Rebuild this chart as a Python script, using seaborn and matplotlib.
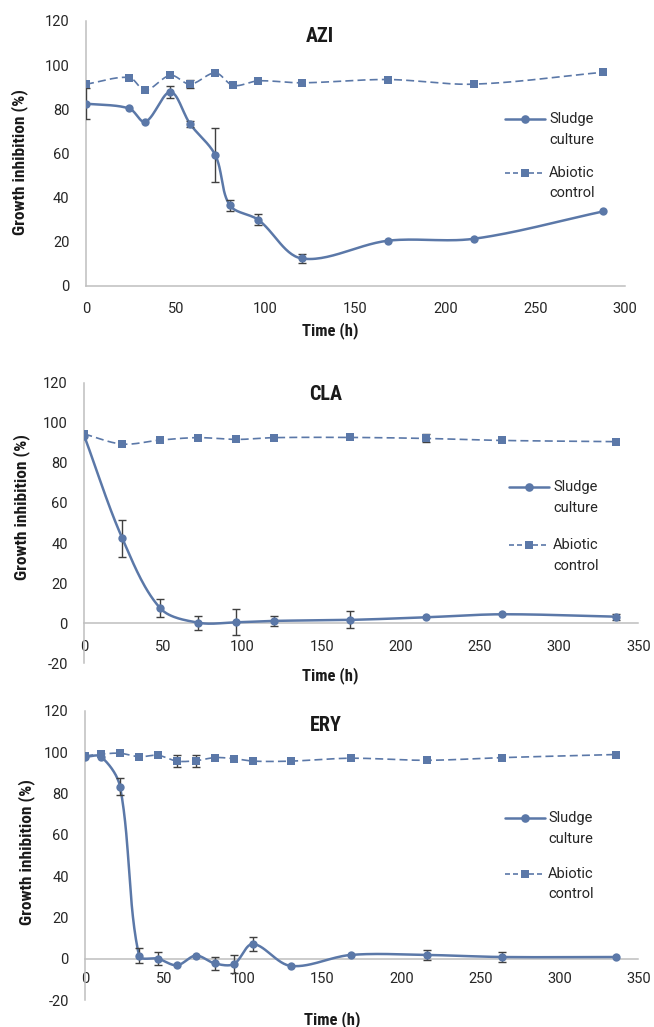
import numpy as np
import pandas as pd
import matplotlib
matplotlib.use("Agg")
import matplotlib.pyplot as plt
from matplotlib.lines import Line2D
from matplotlib import font_manager as fm
from matplotlib.font_manager import FontProperties
import seaborn as sns

# ---------------- data ----------------
azi_t_sludge = [0, 24, 33, 47, 58, 72, 80, 96, 120, 168, 216, 288]
azi_sludge = [82.6, 80.4, 74.3, 87.9, 73.3, 59.2, 36.6, 29.9, 12.5, 20.5, 21.4, 33.8]
azi_sludge_err = [7.2, 0, 0, 2.6, 1.5, 12.2, 2.5, 2.5, 2.0, 0, 0, 0]
azi_t_abiotic = [0, 24, 33, 47, 58, 72, 82, 96, 120, 168, 216, 288]
azi_abiotic = [91.4, 94.4, 88.6, 95.4, 91.4, 96.5, 90.8, 92.9, 92.0, 93.5, 91.4, 96.8]
azi_abiotic_err = [0, 0, 0, 0, 1.8, 0, 0, 0, 0, 0, 0, 0]

cla_t = [0, 24, 48, 72, 96, 120, 168, 216, 264, 336]
cla_sludge = [93.4, 42.4, 7.5, 0.3, 0.5, 1.2, 1.7, 3.0, 4.5, 3.3]
cla_sludge_err = [0, 9.2, 4.5, 3.5, 6.5, 2.5, 4.2, 0, 0, 1.5]
cla_abiotic = [94.4, 89.4, 91.4, 92.6, 91.7, 92.6, 92.7, 92.2, 91.2, 90.6]
cla_abiotic_err = [0, 0, 0, 0, 0, 0, 0, 2.0, 0, 0]

ery_t = [0, 10, 22, 34, 46, 58, 70, 82, 94, 106, 130, 168, 216, 264, 336]
ery_sludge = [97.7, 97.7, 83.2, 1.5, 0.0, -3.2, 1.5, -2.3, -2.6, 7.1, -3.5, 1.8, 1.8, 0.8, 0.8]
ery_sludge_err = [0, 0, 4.0, 3.5, 3.0, 0, 0, 3.0, 4.5, 3.5, 0, 0, 2.5, 2.5, 0]
ery_abiotic = [98.2, 99.0, 99.4, 97.7, 98.4, 95.6, 95.8, 97.3, 96.8, 95.6, 95.6, 97.0, 96.0, 97.3, 98.8]
ery_abiotic_err = [0, 0, 0, 0, 0, 3.0, 3.0, 0, 0, 0, 0, 0, 0, 0, 0]

titles = ["AZI", "CLA", "ERY"]
legend_labels = [("Sludge", "culture"), ("Abiotic", "control")]
x_label = "Time (h)"
y_label = "Growth inhibition (%)"
xticks_list = [list(range(0, 301, 50)), list(range(0, 351, 50)), list(range(0, 351, 50))]
yticks_list = [list(range(0, 121, 20)), list(range(-20, 121, 20)), list(range(-20, 121, 20))]

# ---------------- style ----------------
sns.set_theme(style="white")
ttf = fm.fontManager.ttflist
names = {f.name for f in ttf}
regular = "Roboto" if "Roboto" in names else "DejaVu Sans"
plt.rcParams["font.family"] = [regular, "DejaVu Sans"]
plt.rcParams["axes.unicode_minus"] = False


def _wt(f):
    w = f.weight
    if isinstance(w, str):
        return {"bold": 700, "heavy": 800, "black": 900, "semibold": 600,
                "demibold": 600, "extra bold": 800}.get(w.lower(), 400)
    return int(w)


def condensed_bold():
    prefs = ["Liberation Sans Narrow", "Roboto Condensed", "DejaVu Sans Condensed",
             "Noto Sans Condensed", "Open Sans Condensed"]
    for nm in prefs:
        for f in ttf:
            if f.name == nm and _wt(f) >= 600 and f.style == "normal":
                return FontProperties(fname=f.fname)
    fams = ("DejaVu Sans", "Noto Sans", "Roboto", "Open Sans", "Liberation Sans", "Inter", "Lato")
    for nm in fams:
        for f in ttf:
            st = str(f.stretch)
            if f.name == nm and _wt(f) >= 600 and f.style == "normal" and "condensed" in st \
                    and "extra" not in st and "ultra" not in st:
                return FontProperties(fname=f.fname)
    return FontProperties(family=[regular, "DejaVu Sans"], weight="bold")


BOLD = condensed_bold()


def bfont(size):
    fp = BOLD.copy()
    fp.set_size(size)
    return fp


LINE = "#5b78a8"
ERR = "#404040"
AXC = "#bfbfbf"
TXT = "#262626"

W, H = 654, 1027
fig = plt.figure(figsize=(W / 100, H / 100), dpi=100)


def fx(px):
    return px / W


def fy(py):
    return 1 - py / H


panels = [
    dict(rect=(86, 21, 625, 286), xlim=(0, 300), ylim=(0, 120),
         ts=azi_t_sludge, s=azi_sludge, se=azi_sludge_err,
         ta=azi_t_abiotic, a=azi_abiotic, ae=azi_abiotic_err,
         xpad=11.5, title=(320, 37), tlabel=(330, 331), ylab=(19.5, 162),
         leg=dict(x0=505, x1=545, tx=549, s=(119, 139.5), a=(172.5, 193))),
    dict(rect=(84.3, 382.7, 638.3, 663.4), xlim=(0, 350), ylim=(-20, 120),
         ts=cla_t, s=cla_sludge, se=cla_sludge_err,
         ta=cla_t, a=cla_abiotic, ae=cla_abiotic_err,
         xpad=12, title=(326, 394), tlabel=(330, 676), ylab=(22, 507),
         leg=dict(x0=509, x1=549, tx=553, s=(487, 508), a=(545, 566))),
    dict(rect=(85.3, 710.7, 638.3, 1000), xlim=(0, 350), ylim=(-20, 120),
         ts=ery_t, s=ery_sludge, se=ery_sludge_err,
         ta=ery_t, a=ery_abiotic, ae=ery_abiotic_err,
         xpad=9.5, title=(326, 725.5), tlabel=(332, 1020), ylab=(27, 852),
         leg=dict(x0=505, x1=545, tx=548, s=(818, 839), a=(874, 894))),
]


def smooth(ax, x, y, n=30):
    """Smoothed line (Bezier, tangents weighted by neighbouring chord lengths),
    computed in display space so the shape follows the drawn axes."""
    P = ax.transData.transform(np.column_stack([x, y]))
    m = len(P)
    d = np.linalg.norm(np.diff(P, axis=0), axis=1)
    t = np.linspace(0, 1, n)[:, None]
    segs = []
    for i in range(m - 1):
        p1, p2 = P[i], P[i + 1]
        if i == 0:
            c1 = p1 + (p2 - p1) / 3.0
        else:
            T = P[i + 1] - P[i - 1]
            c1 = p1 + T * d[i] / (3.0 * (d[i - 1] + d[i]))
        if i + 1 == m - 1:
            c2 = p2 - (p2 - p1) / 3.0
        else:
            T = P[i + 2] - P[i]
            c2 = p2 - T * d[i] / (3.0 * (d[i] + d[i + 1]))
        b = (1 - t) ** 3 * p1 + 3 * (1 - t) ** 2 * t * c1 + 3 * (1 - t) * t ** 2 * c2 + t ** 3 * p2
        segs.append(b)
    curve = np.vstack(segs)
    return ax.transData.inverted().transform(curve)


for i, p in enumerate(panels):
    l, t, r, b = p["rect"]
    ax = fig.add_axes([fx(l), fy(b), fx(r - l), (b - t) / H])
    ax.set_xlim(*p["xlim"])
    ax.set_ylim(*p["ylim"])
    ax.set_facecolor("white")

    for side in ["top", "right"]:
        ax.spines[side].set_visible(False)
    for side in ["left", "bottom"]:
        ax.spines[side].set_color(AXC)
        ax.spines[side].set_linewidth(1.1)
    ax.spines["bottom"].set_position(("data", 0))

    ax.set_xticks(xticks_list[i])
    ax.set_yticks(yticks_list[i])
    ax.tick_params(axis="x", direction="in", length=4, width=1, color=AXC,
                   pad=p["xpad"], labelsize=10.5, labelcolor=TXT)
    ax.tick_params(axis="y", direction="out", length=3, width=1, color=AXC,
                   pad=9, labelsize=10.5, labelcolor=TXT)

    df_s = pd.DataFrame({"t": p["ts"], "v": p["s"], "e": p["se"]})
    df_a = pd.DataFrame({"t": p["ta"], "v": p["a"], "e": p["ae"]})

    # smoothed lines
    cs = smooth(ax, df_s["t"].values, df_s["v"].values)
    ax.plot(cs[:, 0], cs[:, 1], color=LINE, lw=1.8, solid_capstyle="round", zorder=3)
    ca = smooth(ax, df_a["t"].values, df_a["v"].values)
    ax.plot(ca[:, 0], ca[:, 1], color=LINE, lw=1.2, dashes=(4.8, 2.5), zorder=3)

    # error bars
    for df in (df_s, df_a):
        dd = df[df["e"] > 0]
        ax.errorbar(dd["t"], dd["v"], yerr=dd["e"], fmt="none", ecolor=ERR,
                    elinewidth=1.0, capsize=2.6, capthick=1.0, zorder=4)

    # markers
    sns.scatterplot(data=df_s, x="t", y="v", ax=ax, marker="o", s=36, color=LINE,
                    edgecolor=LINE, linewidth=0, zorder=5, legend=False)
    sns.scatterplot(data=df_a, x="t", y="v", ax=ax, marker="s", s=34, color=LINE,
                    edgecolor=LINE, linewidth=0, zorder=5, legend=False)
    ax.set_xlabel("")
    ax.set_ylabel("")

    # texts
    fig.text(fx(p["title"][0]), fy(p["title"][1]), titles[i], fontproperties=bfont(14.5),
             ha="center", va="center", color="#1a1a1a")
    fig.text(fx(p["tlabel"][0]), fy(p["tlabel"][1]), x_label, fontproperties=bfont(12),
             ha="center", va="center", color="#1a1a1a")
    fig.text(fx(p["ylab"][0]), fy(p["ylab"][1]), y_label, fontproperties=bfont(12.5),
             ha="center", va="center", rotation=90, color="#1a1a1a")

    # legend (Excel style: handle aligned with first line of a two-line label)
    lg = p["leg"]
    xm = (lg["x0"] + lg["x1"]) / 2
    for key, ls, mk, lw in (("s", "-", "o", 1.8), ("a", (0, (3.0, 1.8)), "s", 1.2)):
        y0, y1 = lg[key]
        fig.add_artist(Line2D([fx(lg["x0"]), fx(lg["x1"])], [fy(y0), fy(y0)],
                              transform=fig.transFigure, color=LINE, lw=lw, linestyle=ls))
        fig.add_artist(Line2D([fx(xm)], [fy(y0)], transform=fig.transFigure, color=LINE,
                              marker=mk, markersize=6.2 if mk == "o" else 6.0,
                              markeredgewidth=0, linestyle="none"))
        lab = legend_labels[0] if key == "s" else legend_labels[1]
        fig.text(fx(lg["tx"]), fy(y0), lab[0], fontsize=10.5, ha="left", va="center",
                 color=TXT)
        fig.text(fx(lg["tx"]), fy(y1), lab[1], fontsize=10.5, ha="left", va="center",
                 color=TXT)

fig.savefig("out.png", dpi=100, facecolor="white")
